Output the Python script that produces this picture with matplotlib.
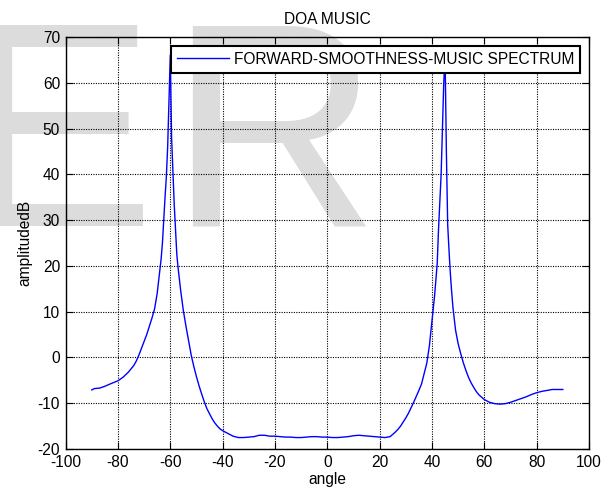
import matplotlib
matplotlib.use("Agg")
import matplotlib.pyplot as plt

angles = [-90, -89, -87, -85, -83, -80, -78, -76, -74, -73, -72, -71, -70, -69, -68,
          -67, -66, -65, -64, -63.5, -63, -62.5, -62, -61.5, -61, -60.5, -60,
          -59.5, -59, -58.5, -58, -57.5, -57, -56, -55, -54, -53, -52, -51, -50,
          -49, -48, -47, -46, -45, -44, -43, -42, -41, -40, -38, -36, -34, -32,
          -30, -28, -26, -24, -22, -20, -18, -16, -14, -12, -10, -8, -6, -4, -2,
          0, 2, 4, 6, 8, 10, 12, 14, 16, 18, 20, 22, 24, 25, 26, 27, 28, 29, 30,
          31, 32, 33, 34, 35, 36, 37, 38, 39, 40, 41, 42, 42.5, 43, 43.5, 44,
          44.5, 45, 45.5, 46, 46.5, 47, 47.5, 48, 49, 50, 51, 52, 53, 54, 55, 56,
          57, 58, 59, 60, 62, 64, 66, 68, 70, 72, 74, 76, 78, 80, 82, 84, 86, 88, 90]
amplitude_db = [-7.1, -6.8, -6.7, -6.3, -5.8, -5.1, -4.3, -3.2, -1.8, -0.8, 0.5, 2.0, 3.5, 5.0, 6.8,
                8.6, 10.6, 14.0, 19.0, 21.5, 25.0, 30.0, 35.0, 39.5, 46.0, 56.0, 66.0,
                48.0, 41.0, 33.5, 28.0, 22.5, 19.5, 14.5, 10.2, 6.8, 3.7, 0.5, -2.0, -4.2,
                -6.2, -8.0, -9.7, -11.2, -12.3, -13.4, -14.3, -15.0, -15.6, -16.0, -16.6, -17.2, -17.5, -17.5,
                -17.4, -17.3, -17.0, -17.0, -17.2, -17.2, -17.3, -17.4, -17.4, -17.5, -17.5, -17.4, -17.3, -17.3, -17.4,
                -17.4, -17.5, -17.5, -17.4, -17.3, -17.1, -17.0, -17.1, -17.2, -17.3, -17.4, -17.5, -17.3, -16.8, -16.3, -15.7, -15.0, -14.1, -13.2,
                -12.2, -11.0, -9.8, -8.5, -7.2, -5.8, -3.5, -1.3, 2.5, 8.0, 13.5, 20.5, 28.0, 34.0, 40.0, 50.0,
                60.0, 66.0, 45.0, 29.0, 23.5, 18.5, 14.5, 11.0, 6.0, 3.0, 0.8, -1.2, -2.9, -4.4, -5.6, -6.6,
                -7.5, -8.2, -8.7, -9.2, -9.8, -10.1, -10.2, -10.1, -9.8, -9.4, -9.0, -8.6, -8.1, -7.7, -7.4, -7.2, -7.0, -7.0, -7.0]

x_ticks = [-100, -80, -60, -40, -20, 0, 20, 40, 60, 80, 100]
y_ticks = [-20, -10, 0, 10, 20, 30, 40, 50, 60, 70]
title = "DOA MUSIC"
x_label = "angle"
y_label = "amplitudedB"
legend_label = "FORWARD-SMOOTHNESS-MUSIC SPECTRUM"

plt.rcParams['font.family'] = ['Liberation Sans', 'DejaVu Sans']
plt.rcParams['axes.unicode_minus'] = False
FS = 11.2

fig = plt.figure(figsize=(6.12, 4.9), dpi=100)
fig.patch.set_facecolor('white')

# watermark behind everything
wm_kw = dict(fontsize=210, color='#dcdcdc', va='baseline', ha='left', zorder=-5)
fig.text(-40 / 612, 1 - 226 / 490, "E", **wm_kw)
fig.text(168 / 612, 1 - 226 / 490, "R", **wm_kw)

ax = fig.add_axes([65.6 / 612, 1 - 449 / 490, (589 - 65.6) / 612, (449 - 37) / 490])
ax.patch.set_alpha(0)

ax.plot(angles, amplitude_db, color='#0000ff', lw=1.0, label=legend_label)

ax.set_xlim(-100, 100)
ax.set_ylim(-20, 70)
ax.set_xticks(x_ticks)
ax.set_yticks(y_ticks)
ax.tick_params(direction='in', length=5, width=0.8, top=True, right=True,
               labelsize=FS, colors='black', pad=4)
ax.grid(True, color='black', linestyle=(0, (1, 1.2)), linewidth=0.8)
for s in ax.spines.values():
    s.set_linewidth(1.0)
    s.set_color('black')

ax.set_title(title, fontsize=FS, pad=9)
ax.set_xlabel(x_label, fontsize=FS, labelpad=2)
ax.set_ylabel(y_label, fontsize=FS, labelpad=4)

leg = ax.legend(loc='upper right', fontsize=FS, frameon=True, fancybox=False,
                framealpha=1, facecolor='white', edgecolor='black', borderpad=0.4,
                handlelength=3.35, handletextpad=0.3, borderaxespad=0.55)
leg.get_frame().set_linewidth(1.5)
leg.set_zorder(10)

fig.savefig('out.png', dpi=100)
